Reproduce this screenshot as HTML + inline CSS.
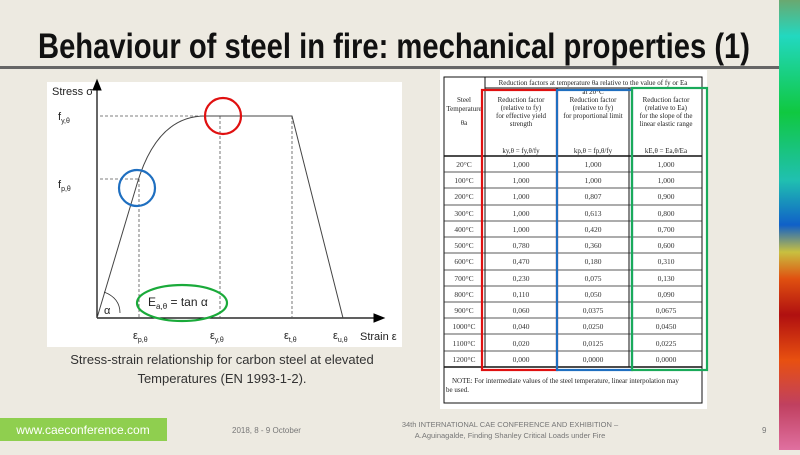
<!DOCTYPE html>
<html><head><meta charset="utf-8"><style>
html,body{margin:0;padding:0;}
body{width:800px;height:450px;overflow:hidden;background:#edeae1;font-family:"Liberation Sans",sans-serif;}
</style></head><body>
<svg width="800" height="450" xmlns="http://www.w3.org/2000/svg" font-family="Liberation Sans, sans-serif">
<defs>
<linearGradient id="rg" x1="0" y1="0" x2="0" y2="1">
<stop offset="0" stop-color="#6aa870"/>
<stop offset="0.08" stop-color="#22d8c0"/>
<stop offset="0.25" stop-color="#10c840"/>
<stop offset="0.4" stop-color="#20c0b0"/>
<stop offset="0.5" stop-color="#1060c8"/>
<stop offset="0.56" stop-color="#c8c040"/>
<stop offset="0.62" stop-color="#e05010"/>
<stop offset="0.7" stop-color="#b01010"/>
<stop offset="0.8" stop-color="#e85010"/>
<stop offset="0.9" stop-color="#c04060"/>
<stop offset="1" stop-color="#e070a0"/>
</linearGradient>
</defs>
<rect x="779" y="0" width="21" height="450" fill="url(#rg)"/>
<text x="38" y="58" font-size="35" font-weight="bold" fill="#111" textLength="712" lengthAdjust="spacingAndGlyphs">Behaviour of steel in fire: mechanical properties (1)</text>
<rect x="0" y="66" width="779" height="3" fill="#666"/>

<!-- chart panel -->
<rect x="47" y="82" width="355" height="265" fill="#fff"/>
<g stroke="#000" fill="none">
<line x1="97" y1="318" x2="97" y2="86" stroke-width="1.2"/>
<polygon points="97,80 93,90 101,90" fill="#000"/>
<line x1="97" y1="318" x2="376" y2="318" stroke-width="1.2"/>
<polygon points="384,318 374,314 374,322" fill="#000"/>
</g>
<g stroke="#555" stroke-dasharray="3,2" stroke-width="0.8" fill="none">
<line x1="100" y1="116" x2="205" y2="116"/>
<line x1="100" y1="179" x2="139" y2="179"/>
<line x1="139" y1="179" x2="139" y2="318"/>
<line x1="220" y1="116" x2="220" y2="318"/>
<line x1="292" y1="116" x2="292" y2="318"/>
</g>
<path d="M97,318 L137,184 C150,140 172,116 205,116 L292,116 L343,318" stroke="#444" stroke-width="1" fill="none"/>
<path d="M104,292 Q120,298 120,313" stroke="#333" fill="none" stroke-width="0.8"/>
<text x="104" y="314" font-size="11" fill="#222">α</text>
<circle cx="223" cy="116" r="18" stroke="#e01010" stroke-width="2.2" fill="none"/>
<circle cx="137" cy="188" r="18" stroke="#1f6fc0" stroke-width="2.2" fill="none"/>
<ellipse cx="182" cy="303" rx="45" ry="18" stroke="#1aaa3a" stroke-width="2.2" fill="none"/>
<text x="148" y="306" font-size="12" fill="#222">E<tspan font-size="8" dy="3">a,θ</tspan><tspan dy="-3"> = tan α</tspan></text>
<text x="52" y="95" font-size="11" fill="#222">Stress σ</text>
<text x="58" y="120" font-size="11" fill="#222">f<tspan font-size="7" dy="3">y,θ</tspan></text>
<text x="58" y="188" font-size="11" fill="#222">f<tspan font-size="7" dy="3">p,θ</tspan></text>
<text x="133" y="339" font-size="11" fill="#222">ε<tspan font-size="7" dy="3">p,θ</tspan></text>
<text x="210" y="339" font-size="11" fill="#222">ε<tspan font-size="7" dy="3">y,θ</tspan></text>
<text x="284" y="339" font-size="11" fill="#222">ε<tspan font-size="7" dy="3">t,θ</tspan></text>
<text x="333" y="339" font-size="11" fill="#222">ε<tspan font-size="7" dy="3">u,θ</tspan></text>
<text x="360" y="340" font-size="11" fill="#222">Strain ε</text>

<text x="222" y="364" font-size="13" fill="#333" text-anchor="middle">Stress-strain relationship for carbon steel at elevated</text>
<text x="222" y="383" font-size="13" fill="#333" text-anchor="middle">Temperatures (EN 1993-1-2).</text>

<!-- table -->
<rect x="440" y="70" width="267" height="339" fill="#fff"/>
<g stroke="#111" stroke-width="1" fill="none">
<rect x="444" y="77" width="258" height="326"/>
<line x1="485" y1="88" x2="702" y2="88"/>
<line x1="485" y1="77" x2="485" y2="367"/>
<line x1="557" y1="88" x2="557" y2="367"/>
<line x1="629" y1="88" x2="629" y2="367"/>
<line x1="444" y1="156" x2="702" y2="156" stroke-width="1.5"/>
<line x1="444" y1="367" x2="702" y2="367" stroke-width="1.5"/>
</g>
<g font-family="Liberation Serif, serif" font-size="7" fill="#222" text-anchor="middle">
<text x="593" y="85">Reduction factors at temperature θa relative to the value of fy or Ea</text>
<text x="593" y="94">at 20°C</text>
<text x="464" y="102">Steel</text><text x="464" y="111">Temperature</text><text x="464" y="125">θa</text>
<text x="521" y="102">Reduction factor</text><text x="521" y="110">(relative to fy)</text><text x="521" y="118">for effective yield</text><text x="521" y="126">strength</text>
<text x="593" y="102">Reduction factor</text><text x="593" y="110">(relative to fy)</text><text x="593" y="118">for proportional limit</text>
<text x="666" y="102">Reduction factor</text><text x="666" y="110">(relative to Ea)</text><text x="666" y="118">for the slope of the</text><text x="666" y="126">linear elastic range</text>
<text x="521" y="153">ky,θ = fy,θ/fy</text><text x="593" y="153">kp,θ = fp,θ/fy</text><text x="666" y="153">kE,θ = Ea,θ/Ea</text>
</g>
<g font-family="Liberation Serif, serif" font-size="7.5" fill="#333" text-anchor="middle">
<g stroke="#222" stroke-width="0.8">
<line x1="444" y1="172" x2="702" y2="172"/><line x1="444" y1="188" x2="702" y2="188"/><line x1="444" y1="205" x2="702" y2="205"/><line x1="444" y1="221" x2="702" y2="221"/><line x1="444" y1="237" x2="702" y2="237"/><line x1="444" y1="253" x2="702" y2="253"/><line x1="444" y1="270" x2="702" y2="270"/><line x1="444" y1="286" x2="702" y2="286"/><line x1="444" y1="302" x2="702" y2="302"/><line x1="444" y1="318" x2="702" y2="318"/><line x1="444" y1="334" x2="702" y2="334"/><line x1="444" y1="351" x2="702" y2="351"/>
</g>
<text x="464" y="167">20°C</text><text x="521" y="167">1,000</text><text x="593" y="167">1,000</text><text x="666" y="167">1,000</text>
<text x="464" y="183">100°C</text><text x="521" y="183">1,000</text><text x="593" y="183">1,000</text><text x="666" y="183">1,000</text>
<text x="464" y="199">200°C</text><text x="521" y="199">1,000</text><text x="593" y="199">0,807</text><text x="666" y="199">0,900</text>
<text x="464" y="216">300°C</text><text x="521" y="216">1,000</text><text x="593" y="216">0,613</text><text x="666" y="216">0,800</text>
<text x="464" y="232">400°C</text><text x="521" y="232">1,000</text><text x="593" y="232">0,420</text><text x="666" y="232">0,700</text>
<text x="464" y="248">500°C</text><text x="521" y="248">0,780</text><text x="593" y="248">0,360</text><text x="666" y="248">0,600</text>
<text x="464" y="264">600°C</text><text x="521" y="264">0,470</text><text x="593" y="264">0,180</text><text x="666" y="264">0,310</text>
<text x="464" y="281">700°C</text><text x="521" y="281">0,230</text><text x="593" y="281">0,075</text><text x="666" y="281">0,130</text>
<text x="464" y="297">800°C</text><text x="521" y="297">0,110</text><text x="593" y="297">0,050</text><text x="666" y="297">0,090</text>
<text x="464" y="313">900°C</text><text x="521" y="313">0,060</text><text x="593" y="313">0,0375</text><text x="666" y="313">0,0675</text>
<text x="464" y="329">1000°C</text><text x="521" y="329">0,040</text><text x="593" y="329">0,0250</text><text x="666" y="329">0,0450</text>
<text x="464" y="346">1100°C</text><text x="521" y="346">0,020</text><text x="593" y="346">0,0125</text><text x="666" y="346">0,0225</text>
<text x="464" y="362">1200°C</text><text x="521" y="362">0,000</text><text x="593" y="362">0,0000</text><text x="666" y="362">0,0000</text>
</g>
<text x="452" y="383" font-family="Liberation Serif, serif" font-size="7" fill="#222">NOTE:  For intermediate values of the steel temperature, linear interpolation may</text>
<text x="446" y="392" font-family="Liberation Serif, serif" font-size="7" fill="#222">be used.</text>
<rect x="482" y="90" width="75" height="280" stroke="#e01010" stroke-width="2.2" fill="none"/>
<rect x="557" y="90" width="75" height="280" stroke="#1f6fc0" stroke-width="2.2" fill="none"/>
<rect x="632" y="88" width="75" height="282" stroke="#1aaa5a" stroke-width="2.2" fill="none"/>

<!-- footer -->
<rect x="0" y="418" width="167" height="23" fill="#8fcf4f"/>
<text x="83" y="434" font-size="12" fill="#fff" text-anchor="middle">www.caeconference.com</text>
<text x="232" y="433" font-size="8" fill="#777">2018, 8 - 9 October</text>
<text x="510" y="427" font-size="7.5" fill="#777" text-anchor="middle">34th INTERNATIONAL CAE CONFERENCE AND EXHIBITION –</text>
<text x="510" y="438" font-size="7.5" fill="#777" text-anchor="middle">A.Aguinagalde, Finding Shanley Critical Loads under Fire</text>
<text x="762" y="433" font-size="8" fill="#777">9</text>
</svg>
</body></html>
